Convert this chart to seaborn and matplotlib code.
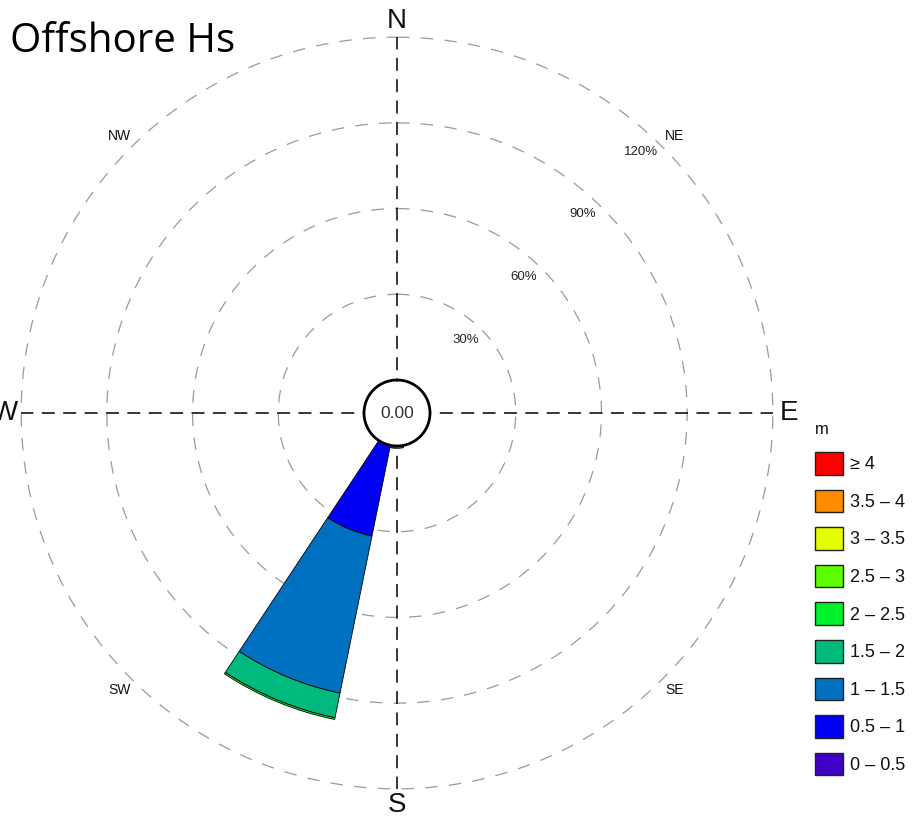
import numpy as np
import pandas as pd
import matplotlib
matplotlib.use("Agg")
import matplotlib.pyplot as plt
from matplotlib.patches import Patch
import seaborn as sns

# wave direction sectors (degrees, from north, clockwise)
directions = [180.0, 202.5]
sector_width = 22.0

# Hs classes (m) and colours
hs_bins = ['0 – 0.5', '0.5 – 1', '1 – 1.5', '1.5 – 2', '2 – 2.5',
           '2.5 – 3', '3 – 3.5', '3.5 – 4', '≥ 4']
bin_colors = ['#4000C8', '#0000F5', '#0070C0', '#00BA7D', '#00F22C',
              '#5CFF00', '#E6FF00', '#FF8C00', '#FF0000']

# frequency (%) per class for each direction
freq_s = [0.0, 0.3, 0.5, 0.0, 0.0, 0.0, 0.0, 0.0, 0.0]
freq_ssw = [0.1, 32.3, 56.1, 8.8, 0.6, 0.0, 0.0, 0.0, 0.0]

ring_pcts = [30, 60, 90, 120]
card_labels = ['N', 'E', 'S', 'W']
inter_labels = ['NE', 'SE', 'SW', 'NW']

offset = 11.55  # radius of the calm circle, in % units

df = pd.DataFrame({'direction': np.repeat(directions, len(hs_bins)),
                   'hs': hs_bins * len(directions),
                   'freq': freq_s + freq_ssw})

sns.set_theme(style='white')
plt.rcParams['font.family'] = ['Liberation Sans', 'DejaVu Sans']
plt.rcParams['text.color'] = '#111111'
palette = dict(zip(hs_bins, sns.color_palette(bin_colors)))

fig = plt.figure(figsize=(9.17, 8.22), dpi=100)
ax = fig.add_axes([-3 / 917, 9 / 822, 800 / 917, 800 / 822], projection='polar')
ax.set_theta_zero_location('N')
ax.set_theta_direction(-1)
ax.set_ylim(0, 140)
ax.axis('off')

theta = np.linspace(0, 2 * np.pi, 721)

# percentage rings
for p in ring_pcts:
    ax.plot(theta, np.full_like(theta, offset + p), color='#9a9a9a',
            lw=0.9, ls=(0, (10, 9)), zorder=1)
    ax.text(np.deg2rad(43), offset + p - 6.5, f'{p}%', fontsize=9.5,
            ha='center', va='center', color='#222222')

# N-S / E-W axis lines
for ang in [0, 90, 180, 270]:
    ax.plot([np.deg2rad(ang)] * 2, [0, offset + 120], color='black',
            lw=1.1, ls=(0, (8.5, 5.5)), zorder=2)

# stacked wedges
for d, grp in df.groupby('direction'):
    bottom = offset
    for _, row in grp.iterrows():
        if row['freq'] > 0:
            ax.bar(np.deg2rad(d), row['freq'], width=np.deg2rad(sector_width),
                   bottom=bottom, color=palette[row['hs']], edgecolor='black',
                   linewidth=0.6, zorder=3)
        bottom += row['freq']

# calm circle
ax.fill_between(theta, 0, offset, color='white', zorder=4)
ax.plot(theta, np.full_like(theta, offset), color='black', lw=2, zorder=5)
ax.text(0, 0, '0.00', ha='center', va='center', fontsize=12.5,
        color='#333333', zorder=6)

# compass labels
for lab, ang in zip(card_labels, [0, 90, 180, 270]):
    ax.text(np.deg2rad(ang), 137.3, lab, ha='center', va='center',
            fontsize=20)
for lab, ang in zip(inter_labels, [45, 135, 225, 315]):
    ax.text(np.deg2rad(ang), 137.2, lab, ha='center', va='center',
            fontsize=10)

fig.text(10 / 917, 1 - 52 / 822, 'Offshore Hs', fontsize=29,
         family='Open Sans', ha='left', va='baseline', color='black')

handles = [Patch(facecolor=palette[b], edgecolor='#222222', linewidth=1)
           for b in hs_bins[::-1]]
fig.legend(handles, hs_bins[::-1], loc='upper left',
           bbox_to_anchor=(815 / 917, 1 - 422 / 822), frameon=False,
           borderpad=0, borderaxespad=0, title='m', alignment='left',
           handlelength=1.55, handleheight=1.55, labelspacing=0.83,
           handletextpad=0.4, fontsize=13, title_fontsize=12)

fig.savefig('out.png', dpi=100)
